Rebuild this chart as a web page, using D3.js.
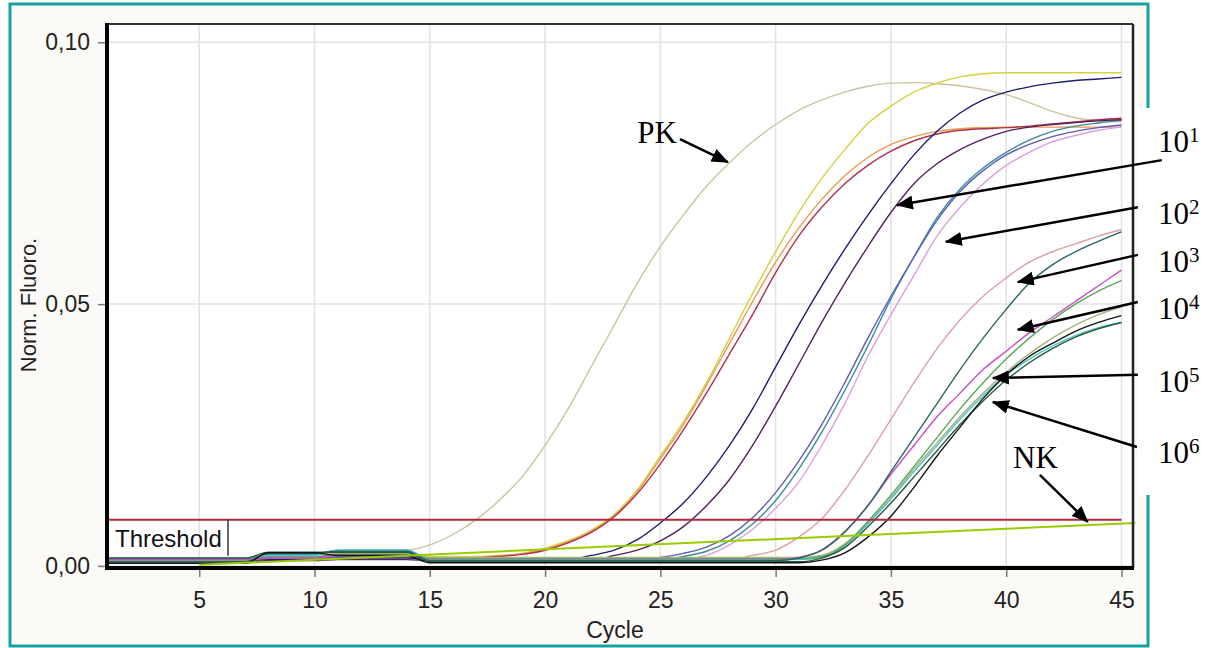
<!DOCTYPE html>
<html>
<head>
<meta charset="UTF-8">
<title>Norm. Fluoro. vs Cycle</title>
<script src="https://cdn.jsdelivr.net/npm/d3@7/dist/d3.min.js"></script>
<style>
    body { margin: 0; background: #fff; }
    svg { display: block; }
    .axis text { font: 23px "Liberation Sans", Arial, sans-serif; fill: #222; }
    .axis line { stroke: #777; stroke-width: 1.5; }
    .grid line { stroke: #e2e2e2; stroke-width: 1.5; }
    .curve { fill: none; stroke-width: 1.4; }
    .note { font-family: "Liberation Serif", "Times New Roman", serif; fill: #000; }
</style>
</head>
<body>
<script>
// x axis: cycle numbers
var cycles = [1,2,3,4,5,6,7,8,9,10,11,12,13,14,15,16,17,18,19,20,21,22,23,24,25,
              26,27,28,29,30,31,32,33,34,35,36,37,38,39,40,41,42,43,44,45];

// fluorescence per cycle, in thousandths of Norm. Fluoro. (50 = 0,05)
var pk = [1.5,1.5,1.5,1.5,1.5,1.5,1.5,2.0,2.0,2.2,
          2.5,2.8,2.8,3.0,4.0,6.0,8.8,12.5,17,23,
          30,38,46,54,61,67,72.5,77,81,84.3,
          87,89,90.5,91.6,92.2,92.3,92.1,91.7,91,90,
          88.5,86.8,85.6,85,84.8];
var yellow = [1.2,1.2,1.2,1.2,1.2,1.2,1.2,1.8,1.8,1.8,
              2.2,2.2,2.2,2.2,1.8,1.8,1.8,2.0,2.4,3.4,
              4.8,6.8,9.8,14.5,21,27.5,35,43.5,52,60,
              67.5,74,79.5,84.5,87.8,90.5,92.2,93.4,94,94.2,
              94.2,94.2,94.2,94.2,94.2];
var orange = [0.8,0.8,0.8,0.8,0.8,0.8,0.8,1.6,1.6,1.6,
              2.0,2.0,2.0,2.0,1.5,1.5,1.6,1.9,2.3,3.2,
              4.6,6.6,9.6,14.2,20.5,27,34.5,42.5,50.5,58,
              64.5,70,74.5,78,80.5,82,83,83.5,83.7,83.8,
              83.8,83.8,83.8,83.8,83.8];
var red = [1.0,1.0,1.0,1.0,1.0,1.0,1.0,1.5,1.5,1.5,
           2.0,2.0,2.0,2.0,1.4,1.4,1.5,1.8,2.2,3.0,
           4.4,6.4,9.4,13.8,19.5,26,33,40.5,48,56,
           63,68.5,73,76.5,79.2,81.2,82.5,83.2,83.5,83.7,
           84,84.4,84.8,85.2,85.5];
var navy = [1.0,1.0,1.0,1.0,1.0,1.0,1.0,1.2,1.2,1.2,
            1.5,1.5,1.5,1.5,1.2,1.2,1.2,1.2,1.2,1.2,
            1.2,2.0,3.0,5.0,8.2,12,17,23,30,38,
            46,53.5,60.5,67,73,78.5,83,86.5,89,90.5,
            91.5,92.2,92.7,93,93.3];
var purple = [0.6,0.6,0.6,0.6,0.6,0.6,0.6,1.0,1.0,1.0,
              1.2,1.2,1.2,1.2,1.0,1.0,1.0,1.0,1.0,1.0,
              1.0,1.0,2.0,3.0,4.8,7.5,11.5,16.5,23,30.5,
              38.5,46.5,54,61,67.5,73,76.8,79.5,81.5,83,
              83.8,84.3,84.7,85,85.2];
var slate = [1.0,1.0,1.0,1.0,1.0,1.0,1.0,1.4,1.4,1.4,
             1.8,1.8,1.8,1.8,1.2,1.2,1.2,1.2,1.2,1.2,
             1.2,1.2,1.2,1.2,1.6,2.4,3.6,5.8,9.2,14,
             20,27,35,43.5,51.5,59,66,71.5,75.5,78.5,
             80.5,82,83,83.7,84.2];
var teal = [1.4,1.4,1.4,1.4,1.4,1.4,1.4,2.2,2.2,2.2,
            3.0,3.0,3.0,3.0,1.4,1.4,1.4,1.4,1.4,1.4,
            1.4,1.4,1.4,1.4,1.2,1.8,2.8,4.8,8.0,12.5,
            18.5,25.5,33.5,42,51,59,66.5,72,76,79,
            81.3,83,84,84.6,85.1];
var pink = [1.3,1.3,1.3,1.3,1.3,1.3,1.3,1.8,1.8,1.8,
            2.2,2.2,2.2,2.2,1.3,1.3,1.3,1.3,1.3,1.3,
            1.3,1.3,1.3,1.3,1.3,1.3,2.0,4.0,7.0,11,
            16,23,31,40,48,55.5,63,68.5,73,76.5,
            79,81,82.2,83.2,83.8];
var salmon = [1.0,1.0,1.0,1.0,1.0,1.0,1.0,1.6,1.6,1.6,
              2.0,2.0,2.0,2.0,1.2,1.2,1.2,1.2,1.2,1.2,
              1.2,1.2,1.2,1.2,1.2,1.2,1.2,1.2,2.0,3.0,
              5.5,9,14.5,21,28,35,41.5,47,51.5,55,
              58,60,61.5,63,64.2];
var darkTeal = [0.8,0.8,0.8,0.8,0.8,0.8,0.8,2.4,2.4,2.4,
                2.8,2.8,2.8,2.8,1.0,1.0,1.0,1.0,1.0,1.0,
                1.0,1.0,1.0,1.0,1.0,1.0,1.0,1.0,1.0,1.0,
                1.5,3.0,6.5,11.5,18,24.5,31,37.5,43.5,49,
                54,57.5,60,62,63.8];
var magenta = [1.2,1.2,1.2,1.2,1.2,1.2,1.2,1.5,1.5,1.5,
               2.0,2.0,2.0,2.0,1.1,1.1,1.1,1.1,1.1,1.1,
               1.1,1.1,1.1,1.1,1.1,1.1,1.1,1.1,1.1,1.1,
               1.6,3.0,6.5,11.5,17.5,23,28.5,33,37.5,41,
               44.5,47.5,50.5,53.5,56.5];
var green = [0.9,0.9,0.9,0.9,0.9,0.9,0.9,1.7,1.7,1.7,
             2.2,2.2,2.2,2.2,1.4,1.4,1.4,1.4,1.4,1.4,
             1.4,1.4,1.4,1.4,1.4,1.4,1.4,1.4,1.4,1.4,
             1.4,1.8,4.0,8.5,13.5,19,24.5,30,35,39.5,
             43.5,47,50,52.5,54.5];
var olive = [1.1,1.1,1.1,1.1,1.1,1.1,1.1,1.6,1.6,1.6,
             2.4,2.4,2.4,2.4,1.6,1.6,1.6,1.6,1.6,1.6,
             1.6,1.6,1.6,1.6,1.6,1.6,1.6,1.6,1.6,1.6,
             1.6,2.0,4.2,8.2,13,18.5,23.5,28.5,33,37,
             40.5,43.5,46,48,49.5];
var cyan = [0.7,0.7,0.7,0.7,0.7,0.7,0.7,2.0,2.0,2.0,
            3.0,3.0,3.0,3.0,1.2,1.2,1.2,1.2,1.2,1.2,
            1.2,1.2,1.2,1.2,1.2,1.2,1.2,1.2,1.2,1.2,
            1.2,1.6,3.8,8.0,12.8,18,23,28,32.5,36.5,
            39.5,42,44,45.5,46.5];
var darkGreen = [1.5,1.5,1.5,1.5,1.5,1.5,1.5,2.6,2.6,2.6,
                 2.6,2.6,2.6,2.6,0.8,0.8,0.8,0.8,0.8,0.8,
                 0.8,0.8,0.8,0.8,0.8,0.8,0.8,0.8,0.8,0.8,
                 0.8,1.5,3.5,7.5,12,17,22,27,31.5,35.5,
                 38.8,41.5,43.7,45.3,46.5];
var black = [0.5,0.5,0.5,0.5,0.5,0.5,0.5,2.5,2.5,2.5,
             2.0,2.0,2.0,2.0,0.6,0.6,0.6,0.6,0.6,0.6,
             0.6,0.6,0.6,0.6,0.6,0.6,0.6,0.6,0.6,0.6,
             0.6,1.1,2.5,5.5,9.5,15,21,26.5,32,36.5,
             40,42.5,44.8,46.5,47.8];

// negative control (NK) drift line and threshold
var nkCycles = [5, 45.6];
var nkValues = [0.2, 8.2];
var threshold = 8.8;

var xTicks = [5, 10, 15, 20, 25, 30, 35, 40, 45];
var yTicks = [0, 50, 100];
var yTickLabels = ["0,00", "0,05", "0,10"];

// annotations: text, exponent, text position and arrow (cycle, value)
var noteText = ["PK", "10", "10", "10", "10", "10", "10", "NK"];
var noteSup = ["", "1", "2", "3", "4", "5", "6", ""];
var noteAt = [[24.0, 80.8], [46.58, 79.0], [46.58, 65.3], [46.58, 56.1],
              [46.58, 47.2], [46.58, 33.2], [46.58, 19.7], [40.3, 18.7]];
var arrowFrom = [[25.85, 81.5], [46.75, 77.5], [45.71, 68.5], [45.71, 59.4],
                 [45.71, 50.4], [45.71, 36.5], [45.67, 22.7], [41.46, 17.4]];
var arrowTo = [[27.93, 77.1], [35.26, 68.9], [37.38, 61.9], [40.5, 54.2],
               [40.5, 45.1], [39.42, 35.9], [39.42, 31.3], [43.54, 8.4]];

var series = [
    {values: pk, color: "#cbc3a0"},
    {values: yellow, color: "#d6d040"},
    {values: orange, color: "#e89a50"},
    {values: red, color: "#b0304a"},
    {values: pink, color: "#d9a0dc"},
    {values: teal, color: "#3a8c9c"},
    {values: slate, color: "#5c5cbc"},
    {values: purple, color: "#56205e"},
    {values: navy, color: "#1e1e6e"},
    {values: salmon, color: "#dca0a4"},
    {values: olive, color: "#aab080"},
    {values: cyan, color: "#4ac4cc"},
    {values: green, color: "#5aa65a"},
    {values: magenta, color: "#c84cc8"},
    {values: darkTeal, color: "#2c6466"},
    {values: darkGreen, color: "#2a5a3c"},
    {values: black, color: "#141414"}
];

var W = 1229, H = 648;
var plotL = 107, plotR = 1133, plotT = 24, plotB = 568;

var x = d3.scaleLinear().domain([1, 45.5]).range([plotL, plotR]);
var y = d3.scaleLinear().domain([-0.4, 103.5]).range([plotB, plotT]);

var svg = d3.select("body").append("svg")
    .attr("width", W)
    .attr("height", H);

// screenshot frame
svg.append("rect")
    .attr("x", 10).attr("y", 4)
    .attr("width", 1138).attr("height", 642)
    .attr("fill", "#fcfaf7")
    .attr("stroke", "#17a0a0")
    .attr("stroke-width", 3);

// white patch where the labels sit over the frame edge
svg.append("rect")
    .attr("x", 1137).attr("y", 108)
    .attr("width", W - 1137).attr("height", 387)
    .attr("fill", "#fff");

var defs = svg.append("defs");
defs.append("clipPath").attr("id", "plot")
    .append("rect")
    .attr("x", plotL).attr("y", plotT)
    .attr("width", plotR - plotL).attr("height", plotB - plotT);
defs.append("marker")
    .attr("id", "head")
    .attr("markerUnits", "userSpaceOnUse")
    .attr("markerWidth", 18).attr("markerHeight", 14)
    .attr("refX", 16).attr("refY", 7)
    .attr("orient", "auto")
    .append("path")
    .attr("d", "M0,0L17,7L0,14Z")
    .attr("fill", "#000");

svg.append("rect")
    .attr("x", plotL).attr("y", plotT)
    .attr("width", plotR - plotL).attr("height", plotB - plotT)
    .attr("fill", "#fff");

// grid
svg.append("g").attr("class", "grid")
    .selectAll("line").data(xTicks).enter().append("line")
    .attr("x1", function(d) { return x(d); })
    .attr("x2", function(d) { return x(d); })
    .attr("y1", plotT).attr("y2", plotB);
svg.append("g").attr("class", "grid")
    .selectAll("line").data(yTicks).enter().append("line")
    .attr("x1", plotL).attr("x2", plotR)
    .attr("y1", function(d) { return y(d); })
    .attr("y2", function(d) { return y(d); });

// axes
var yAxis = svg.append("g").attr("class", "axis")
    .attr("transform", "translate(" + plotL + ",0)")
    .call(d3.axisLeft(y).tickValues(yTicks)
        .tickFormat(function(d, i) { return yTickLabels[i]; })
        .tickSize(9).tickPadding(8));
yAxis.select(".domain").remove();

var xAxis = svg.append("g").attr("class", "axis")
    .attr("transform", "translate(0," + plotB + ")")
    .call(d3.axisBottom(x).tickValues(xTicks).tickSize(9).tickPadding(15));
xAxis.select(".domain").remove();

svg.append("text")
    .attr("x", 615).attr("y", 638)
    .attr("text-anchor", "middle")
    .style("font", "23px 'Liberation Sans', Arial, sans-serif")
    .style("fill", "#222")
    .text("Cycle");

svg.append("text")
    .attr("transform", "translate(36,305) rotate(-90)")
    .attr("text-anchor", "middle")
    .style("font", "22px 'Liberation Sans', Arial, sans-serif")
    .style("fill", "#222")
    .text("Norm. Fluoro.");

// curves
var line = d3.line()
    .x(function(d, i) { return x(cycles[i]); })
    .y(function(d) { return y(d); })
    .curve(d3.curveMonotoneX);

svg.append("g")
    .attr("clip-path", "url(#plot)")
    .selectAll("path")
    .data(series)
    .enter().append("path")
    .attr("class", "curve")
    .attr("d", function(d) { return line(d.values); })
    .attr("stroke", function(d) { return d.color; });

// threshold line and its label box
svg.append("line")
    .attr("x1", plotL).attr("x2", x(45))
    .attr("y1", y(threshold)).attr("y2", y(threshold))
    .attr("stroke", "#b0283c")
    .attr("stroke-width", 2);
svg.append("line")
    .attr("x1", 228).attr("x2", 228)
    .attr("y1", y(threshold)).attr("y2", y(threshold) + 36)
    .attr("stroke", "#333")
    .attr("stroke-width", 1.5);
svg.append("text")
    .attr("x", 115).attr("y", 547)
    .style("font", "24px 'Liberation Sans', Arial, sans-serif")
    .style("fill", "#111")
    .text("Threshold");

// NK drift line
svg.append("line")
    .attr("x1", x(nkCycles[0])).attr("x2", x(nkCycles[1]))
    .attr("y1", y(nkValues[0])).attr("y2", y(nkValues[1]))
    .attr("stroke", "#99cc00")
    .attr("stroke-width", 2);

// plot border
svg.append("line").attr("x1", plotL).attr("x2", plotR).attr("y1", plotT).attr("y2", plotT)
    .attr("stroke", "#333").attr("stroke-width", 2);
svg.append("line").attr("x1", plotR).attr("x2", plotR).attr("y1", plotT).attr("y2", plotB)
    .attr("stroke", "#222").attr("stroke-width", 2.5);
svg.append("line").attr("x1", plotL).attr("x2", plotL).attr("y1", plotT - 1).attr("y2", plotB + 2)
    .attr("stroke", "#000").attr("stroke-width", 4);
svg.append("line").attr("x1", plotL - 2).attr("x2", plotR + 1).attr("y1", plotB).attr("y2", plotB)
    .attr("stroke", "#000").attr("stroke-width", 4);

// annotations
var notes = svg.append("g");
noteText.forEach(function(t, i) {
    notes.append("line")
        .attr("x1", x(arrowFrom[i][0])).attr("y1", y(arrowFrom[i][1]))
        .attr("x2", x(arrowTo[i][0])).attr("y2", y(arrowTo[i][1]))
        .attr("stroke", "#000")
        .attr("stroke-width", 2.5)
        .attr("marker-end", "url(#head)");
    var label = notes.append("text")
        .attr("class", "note")
        .attr("x", x(noteAt[i][0]))
        .attr("y", y(noteAt[i][1]))
        .style("font-size", "31px")
        .text(t);
    if (noteSup[i]) {
        label.append("tspan")
            .attr("dy", -10)
            .style("font-size", "21px")
            .text(noteSup[i]);
    }
});
</script>
</body>
</html>
